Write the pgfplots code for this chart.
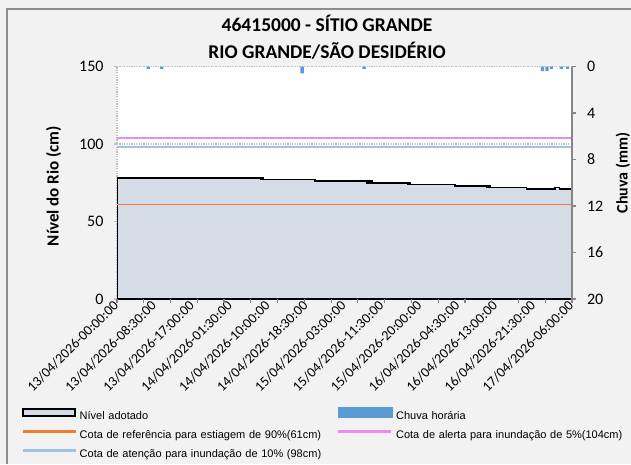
\documentclass[border=0pt]{standalone}
\usepackage{pgfplots}
\pgfplotsset{compat=1.18}
\usepackage{fontspec}
\setmainfont{Carlito}
\newfontfamily\legendfont{Liberation Sans}
\definecolor{bgc}{HTML}{F2F2F2}
\definecolor{framec}{HTML}{8C8C8C}
\definecolor{gridc}{HTML}{BFBFBF}
\definecolor{areac}{HTML}{D6DCE5}
\definecolor{rainc}{HTML}{5B9BD5}
\definecolor{orangec}{HTML}{ED7D31}
\definecolor{pinkc}{HTML}{E88EE8}
\definecolor{bluec}{HTML}{9DC3E6}
\definecolor{axisc}{HTML}{868686}

\pgfplotstableread{
t mm
7 0.2
10 0.2
41.5 0.6
55.4 0.2
95.4 0.4
96.4 0.4
97.4 0.2
99.6 0.2
101 0.2
}\raintable

\begin{document}
\begin{tikzpicture}[x=1pt,y=1pt]
\fill[bgc] (0,0) rectangle (631,464);
\draw[framec, line width=2pt] (7,0) -- (7,455) -- (631,455);

\begin{axis}[
  at={(117pt,165pt)}, anchor=south west,
  scale only axis, width=455pt, height=232.5pt,
  xmin=0, xmax=102, ymin=0, ymax=150,
  axis background/.style={fill=white},
  axis x line*=bottom, axis y line*=left,
  x axis line style={draw=none},
  y axis line style={gridc, dash pattern=on 1.2pt off 1.2pt, line width=1.2pt},
  ytick={0,50,100,150},
  ymajorgrids,
  grid style={gridc, dash pattern=on 1.2pt off 1.2pt, line width=1.2pt},
  ytick style={gridc, line width=1.2pt},
  tick align=outside,
  major tick length=3pt,
  /pgf/number format/assume math mode=true,
  yticklabel style={font=\fontsize{16}{19}\selectfont, xshift=-7pt},
  xtick={0,8.5,17,25.5,34,42.5,51,59.5,68,76.5,85,93.5,102},
  xticklabels={13/04/2026-00:00:00,13/04/2026-08:30:00,13/04/2026-17:00:00,14/04/2026-01:30:00,14/04/2026-10:00:00,14/04/2026-18:30:00,15/04/2026-03:00:00,15/04/2026-11:30:00,15/04/2026-20:00:00,16/04/2026-04:30:00,16/04/2026-13:00:00,16/04/2026-21:30:00,17/04/2026-06:00:00},
  xtick style={draw=none},
  xticklabel style={rotate=45, anchor=east, font=\fontsize{14}{16}\selectfont, inner sep=1.5pt},
  legend columns=2,
  legend style={at={(-0.2088,-0.4645)}, anchor=north west, draw=none, fill=none,
    inner sep=0pt, font=\fontsize{11}{13}\legendfont,
    nodes={text width=254pt, inner sep=0pt, text height=8pt, text depth=2.5pt},
    row sep=8.5pt,
    /tikz/every odd column/.append style={column sep=4pt},
    /tikz/every even column/.append style={column sep=4pt}},
]
\addplot[const plot, fill=areac, draw=black, line width=1.6pt,
  legend image code/.code={\draw[fill=areac, draw=black, line width=1.5pt] (0pt,0.5pt) rectangle (52pt,7.5pt);}]
 coordinates {
 (0,78) (32.2,77) (32.5,78) (32.8,77) (44.4,76)
 (56.0,75) (56.3,76) (56.6,75) (57.0,76) (57.3,75)
 (65.1,74) (65.4,75) (65.7,74) (75.8,73)
 (83.0,72) (83.3,73) (83.6,72) (91.8,71)
 (98.2,72) (99.2,71) (102,71)
 } \closedcycle;
\addlegendentry{Nível adotado}
\addlegendimage{legend image code/.code={\fill[rainc] (0pt,-1pt) rectangle (54pt,9pt);}}
\addlegendentry{Chuva horária}
\addlegendimage{legend image code/.code={\fill[orangec] (0pt,3pt) rectangle (52pt,5pt);}}
\addlegendentry{Cota de referência para estiagem de 90\%(61cm)}
\addlegendimage{legend image code/.code={\fill[pinkc] (0pt,3pt) rectangle (52pt,5pt);}}
\addlegendentry{Cota de alerta para inundação de 5\%(104cm)}
\addlegendimage{legend image code/.code={\fill[bluec] (0pt,3pt) rectangle (52pt,5pt);}}
\addlegendentry{Cota de atenção para inundação de 10\% (98cm)}
\addplot[orangec, line width=1.8pt, forget plot] coordinates {(0,61) (102,61)};
\addplot[pinkc, line width=1.4pt, forget plot] coordinates {(0,104) (102,104)};
\addplot[bluec, line width=1.4pt, forget plot] coordinates {(0,98) (102,98)};
\end{axis}

\begin{axis}[
  at={(117pt,165pt)}, anchor=south west,
  scale only axis, width=455pt, height=232.5pt,
  xmin=0, xmax=102, ymin=0, ymax=20,
  y dir=reverse,
  axis x line*=bottom, axis y line*=right,
  x axis line style={draw=none},
  y axis line style={axisc, line width=1.4pt},
  xtick={0,6,...,102}, xticklabels={},
  xtick style={axisc, line width=1.2pt},
  ytick={0,4,8,12,16,20},
  ytick style={axisc, line width=1.2pt},
  tick align=outside,
  major tick length=3.5pt,
  /pgf/number format/assume math mode=true,
  yticklabel style={font=\fontsize{16}{19}\selectfont, xshift=8pt},
]
\addplot[ybar, bar width=0.75, fill=rainc, draw=none] table[x=t, y=mm] {\raintable};
\end{axis}

\node[anchor=base, font=\bfseries\fontsize{19.5}{23}\selectfont] at (327,432) {46415000 - SÍTIO GRANDE};
\node[anchor=base, font=\bfseries\fontsize{19.5}{23}\selectfont] at (327,405) {RIO GRANDE/SÃO DESIDÉRIO};
\node[rotate=90, font=\bfseries\fontsize{17}{20}\selectfont] at (53.5,278) {Nível do Rio (cm)};
\node[rotate=90, font=\bfseries\fontsize{16}{19}\selectfont] at (623,291) {Chuva (mm)};

\pgfresetboundingbox
\useasboundingbox (0,0) rectangle (631,464);
\end{tikzpicture}
\end{document}
